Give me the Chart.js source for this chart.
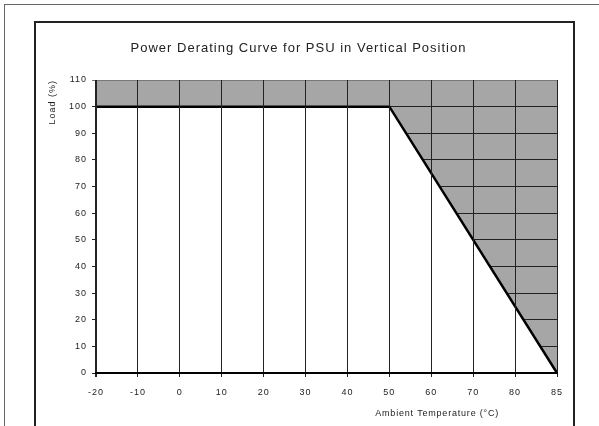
<!DOCTYPE html>
<html>
<head>
<meta charset="utf-8">
<script src="https://cdn.jsdelivr.net/npm/chart.js@4/dist/chart.umd.min.js"></script>
<style>
  body { margin:0; background:#fff; width:599px; height:426px; overflow:hidden; position:relative; }
  #outer { position:absolute; left:4px; top:4px; width:700px; height:500px; border-left:1px solid #666; border-top:1px solid #666; }
  #inner { position:absolute; left:34px; top:21px; width:537px; height:500px; border:2px solid #222; border-bottom:none; }
  #wrap { position:absolute; left:0; top:0; width:599px; height:426px; }
</style>
</head>
<body>
<div id="outer"></div>
<div id="inner"></div>
<div id="wrap"><canvas id="grafico" width="599" height="426"></canvas></div>
<script>
const temps = ['-20','-10','0','10','20','30','40','50','60','70','80','85'];
const curveX = ['-20','50','85'];
const curveLoad = [100, 100, 0];
const loadTicks = [0, 110, 10]; // min, max, step

const FONT = "'Liberation Sans', Arial, sans-serif";
const pontos = curveX.map((x, i) => ({x:x, y:curveLoad[i]}));

// fundo cinza da área, espaçamento das letras, título do eixo x
const extras = {
  id:'extras',
  beforeUpdate(chart){ chart.ctx.letterSpacing = '1px'; },
  beforeDraw(chart){
    const a = chart.chartArea, ctx = chart.ctx;
    ctx.letterSpacing = '1px';
    ctx.save();
    ctx.fillStyle = '#a6a6a6';
    ctx.fillRect(a.left, a.top, a.right - a.left, a.bottom - a.top);
    ctx.restore();
  },
  afterDraw(chart){
    const a = chart.chartArea, ctx = chart.ctx;
    ctx.save();
    ctx.letterSpacing = '0.8px';
    ctx.font = '9px ' + FONT;
    ctx.fillStyle = '#222';
    ctx.textAlign = 'center';
    ctx.textBaseline = 'middle';
    ctx.fillText('Ambient Temperature (°C)', a.left + (a.right - a.left) * 0.74, a.bottom + 41);
    ctx.restore();
  }
};

new Chart(document.getElementById('grafico'), {
  type:'line',
  data:{
    labels:temps,
    datasets:[
      { data:pontos, borderColor:'#000', borderWidth:2.5, pointRadius:0,
        fill:{target:'origin', above:'#fff', below:'#fff'} }
    ]
  },
  options:{
    responsive:false,
    animation:false,
    devicePixelRatio:1,
    layout:{padding:{left:40, right:42, top:0, bottom:0}},
    plugins:{
      legend:{display:false},
      tooltip:{enabled:false},
      title:{display:true, text:'Power Derating Curve for PSU in Vertical Position',
        color:'#222', font:{family:FONT, size:13, weight:'normal'}, padding:{top:41, bottom:23.4}}
    },
    scales:{
      x:{
        type:'category',
        grid:{ z:1, color:'#222', lineWidth:c => c.index === 0 ? 2 : 1, tickLength:4, drawTicks:true },
        border:{display:true, z:2, color:'#000', width:2},
        ticks:{ color:'#222', font:{family:FONT, size:9}, autoSkip:false, maxRotation:0, padding:10 },
        afterFit:s => { s.height = 53; }
      },
      y:{
        min:loadTicks[0], max:loadTicks[1],
        grid:{ z:-1, color:c => c.tick && c.tick.value === loadTicks[1] ? '#777' : '#222', lineWidth:1, tickLength:4 },
        border:{display:false},
        ticks:{ stepSize:loadTicks[2], color:'#222', font:{family:FONT, size:9}, padding:5 },
        title:{ display:true, text:'Load (%)', align:'end', color:'#222',
          font:{family:FONT, size:9}, padding:{top:7, bottom:0} },
        afterFit:s => { s.width = 56; }
      }
    }
  },
  plugins:[extras]
});
</script>
</body>
</html>
